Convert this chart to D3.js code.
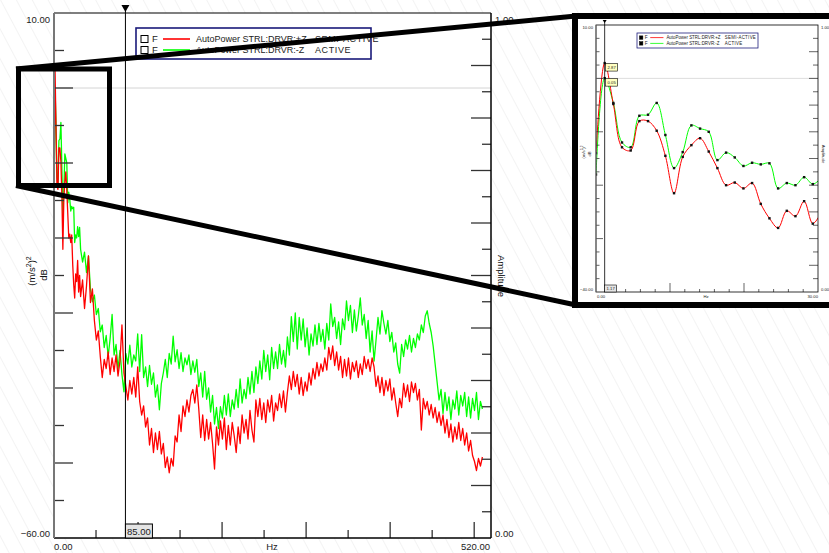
<!DOCTYPE html>
<html>
<head>
<meta charset="utf-8">
<script src="https://cdn.jsdelivr.net/npm/d3@7"></script>
<style>
  body { margin: 0; background: #fff; }
  svg { display: block; }
  text { font-family: "Liberation Sans", Arial, sans-serif; fill: #222; }
</style>
</head>
<body>
<svg id="chart" width="829" height="553"></svg>
<script>
// Spectral line spacing of the autopower measurement (Hz)
const DF = 1.171875;

// Low band 0 .. 30.5 Hz, one value per spectral line (dB)
const lowRed   = [-14.0, 2.87, -4.8, -12.9, -13.5, -8.0, -8.0, -9.8, -14.5, -21.5, -14.7, -12.5, -11.2, -13.7,
                  -16.8, -20.0, -19.5, -20.6, -19.6, -23.5, -26.2, -28.0, -24.8, -25.8, -23.0, -27.2, -25.0];
const lowGreen = [-18.0, 0.05, -4.6, -12.0, -12.9, -7.0, -6.8, -4.6, -10.6, -16.8, -13.8, -8.8, -9.4, -10.0,
                  -15.3, -13.9, -14.8, -16.4, -15.8, -16.1, -15.9, -20.6, -19.6, -20.0, -18.5, -19.8, -18.6];

// Broadband 31.6 .. 510 Hz, every second spectral line (dB)
const highRed = [
  -27.8, -25.6, -29.4, -26.4, -22.4, -28.6, -26.8, -31.0, -33.6, -32.4,
  -35.8, -38.6, -36.2, -37.4, -35.2, -38.2, -36.0, -37.8, -35.6, -38.4,
  -36.4, -31.6, -38.0, -39.8, -41.6, -39.0, -40.8, -38.6, -41.2, -37.2,
  -41.8, -43.6, -42.4, -45.2, -44.0, -47.6, -45.4, -48.6, -46.0, -48.2,
  -45.8, -48.8, -47.4, -50.6, -49.2, -51.3, -49.4, -50.4, -46.4, -47.2,
  -43.6, -45.8, -42.4, -43.8, -41.6, -43.2, -41.0, -40.2, -42.0, -39.6,
  -42.8, -46.6, -43.6, -47.0, -44.2, -46.8, -44.6, -47.4, -50.8, -45.2,
  -47.6, -44.4, -46.8, -44.0, -48.2, -45.0, -47.6, -44.6, -46.4, -48.6,
  -45.2, -47.4, -43.6, -46.0, -44.2, -46.8, -43.0, -45.6, -47.2, -41.6,
  -43.8, -41.4, -44.2, -42.0, -44.6, -41.6, -43.2, -41.0, -44.4, -42.0,
  -43.0, -40.8, -42.6, -40.4, -43.2, -40.6, -38.4, -40.2, -37.8, -39.8,
  -38.2, -40.8, -38.6, -41.0, -39.2, -40.4, -38.0, -39.6, -37.4, -38.8,
  -36.6, -38.4, -36.8, -37.8, -36.0, -37.6, -34.6, -36.2, -34.4, -37.0,
  -35.2, -37.6, -35.8, -38.6, -36.2, -38.4, -36.0, -38.8, -36.6, -37.8,
  -36.4, -38.6, -36.8, -38.2, -35.8, -37.4, -36.2, -37.8, -36.0, -37.2,
  -39.8, -38.4, -40.6, -38.6, -41.0, -39.0, -40.4, -38.8, -41.6, -40.0,
  -42.0, -43.8, -41.4, -42.6, -39.4, -41.2, -39.6, -41.8, -39.2, -40.6,
  -39.4, -41.6, -40.2, -45.6, -41.4, -42.8, -41.8, -43.6, -42.2, -44.0,
  -42.6, -44.6, -43.2, -45.0, -43.6, -46.0, -44.2, -46.6, -44.8, -47.2,
  -45.2, -46.8, -44.6, -47.0, -45.4, -47.6, -46.0, -48.4, -47.0, -49.0,
  -49.8, -51.0, -49.4, -50.4, -49.2
];
const highGreen = [
  -21.5, -23.2, -21.9, -24.6, -22.4, -26.8, -28.5, -27.6, -30.2, -29.4,
  -32.5, -31.6, -34.6, -33.0, -35.8, -33.4, -30.2, -35.6, -34.2, -37.5,
  -35.0, -38.2, -40.5, -35.4, -36.8, -34.3, -37.2, -35.6, -36.4, -32.8,
  -37.8, -32.9, -38.6, -37.2, -39.8, -37.0, -39.5, -38.0, -41.2, -39.6,
  -42.9, -39.4, -38.0, -36.2, -38.6, -35.4, -36.8, -33.1, -36.5, -34.9,
  -37.4, -35.3, -37.8, -36.0, -36.9, -35.6, -38.2, -36.4, -37.9, -36.2,
  -39.8, -38.0, -41.2, -37.8, -41.5, -40.0, -43.2, -41.0, -44.8, -42.6,
  -45.4, -42.5, -44.0, -41.0, -43.6, -40.8, -43.8, -41.6, -42.8, -40.2,
  -42.6, -38.8, -42.0, -40.2, -41.4, -38.6, -40.8, -37.8, -40.6, -37.2,
  -39.4, -36.4, -38.8, -35.0, -37.8, -35.6, -38.9, -34.6, -37.4, -35.2,
  -37.4, -34.2, -36.8, -35.0, -37.2, -33.2, -35.6, -30.5, -33.8, -30.0,
  -34.8, -30.6, -33.6, -30.8, -34.5, -32.0, -35.6, -32.8, -34.4, -31.6,
  -34.2, -31.4, -33.8, -32.2, -34.8, -31.4, -33.6, -28.8, -31.8, -30.6,
  -33.4, -31.2, -34.2, -30.8, -32.2, -28.4, -31.0, -29.0, -32.6, -29.6,
  -32.4, -30.4, -28.0, -31.6, -30.2, -33.4, -31.0, -35.2, -32.4, -36.4,
  -33.6, -30.6, -32.8, -29.7, -31.4, -32.8, -31.0, -33.8, -32.6, -35.2,
  -34.0, -36.8, -38.0, -34.2, -35.8, -33.6, -34.8, -33.0, -35.2, -33.4,
  -34.6, -32.8, -33.6, -31.6, -32.6, -30.4, -29.7, -31.4, -32.6, -34.4,
  -36.8, -39.2, -41.6, -40.2, -43.4, -40.6, -43.0, -41.2, -44.2, -41.6,
  -42.8, -40.4, -43.6, -41.0, -42.4, -40.6, -43.8, -41.2, -44.0, -41.4,
  -43.0, -40.6, -44.2, -41.8, -42.8
];

const seriesNames  = ["AutoPower STRL:DRVR:+Z", "AutoPower STRL:DRVR:-Z"];
const seriesStates = ["SEMI-ACTIVE", "ACTIVE"];
const seriesColors = ["#ff0000", "#00ff00"];

const mainXDomain = [0, 520];
const mainYDomain = [-60, 10];
const insetXDomain = [0, 30];
const insetYDomain = [-40, 10];
const ampDomain = [0, 1];
const mainCursor = 85.00;
const insetCursor = 1.17;

// ---- build frequency/value pairs ----
function buildSeries(low, high) {
  const pts = low.map((v, i) => ({ f: i * DF, v }));
  const f0 = low.length * DF;
  high.forEach((v, j) => pts.push({ f: f0 + j * 2 * DF, v }));
  return pts;
}
const redPts = buildSeries(lowRed, highRed);
const greenPts = buildSeries(lowGreen, highGreen);
const lowRedPts = lowRed.map((v, i) => ({ f: i * DF, v }));
const lowGreenPts = lowGreen.map((v, i) => ({ f: i * DF, v }));

const svg = d3.select("#chart");
const fmt = d3.format(".2f");

// ---- background hatch ----
const defs = svg.append("defs");
const pat = defs.append("pattern").attr("id", "hatch").attr("patternUnits", "userSpaceOnUse")
  .attr("width", 14).attr("height", 14).attr("patternTransform", "rotate(-28)");
pat.append("line").attr("x1", 0).attr("y1", 0).attr("x2", 0).attr("y2", 14)
  .attr("stroke", "#e9e9e9").attr("stroke-width", 1.1);
svg.append("rect").attr("width", 829).attr("height", 553).attr("fill", "#fff");
svg.append("rect").attr("width", 829).attr("height", 553).attr("fill", "url(#hatch)");

// ================= MAIN CHART =================
const M = { l: 54, r: 491, t: 13, b: 538 };
const x = d3.scaleLinear().domain(mainXDomain).range([M.l, M.r]);
const y = d3.scaleLinear().domain(mainYDomain).range([M.b, M.t]);
const yA = d3.scaleLinear().domain(ampDomain).range([M.b, M.t]);

const main = svg.append("g");
main.append("rect").attr("x", M.l).attr("y", M.t).attr("width", M.r - M.l).attr("height", M.b - M.t).attr("fill", "#fff");

// 0 dB reference line
main.append("line").attr("x1", M.l).attr("x2", M.r).attr("y1", y(0)).attr("y2", y(0))
  .attr("stroke", "#d4d4d4").attr("stroke-width", 1);

defs.append("clipPath").attr("id", "mainClip").append("rect")
  .attr("x", M.l).attr("y", M.t).attr("width", M.r - M.l).attr("height", M.b - M.t);

const line = d3.line().x(d => x(d.f)).y(d => y(d.v));
const plotG = main.append("g").attr("clip-path", "url(#mainClip)");
plotG.append("path").datum(greenPts).attr("d", line).attr("fill", "none")
  .attr("stroke", seriesColors[1]).attr("stroke-width", 1.3).attr("stroke-linejoin", "round");
plotG.append("path").datum(redPts).attr("d", line).attr("fill", "none")
  .attr("stroke", seriesColors[0]).attr("stroke-width", 1.3).attr("stroke-linejoin", "round");

// left axis ticks (5 dB minor, 10 dB major)
const leftTicks = d3.range(-55, 10, 5);
main.selectAll(".lt").data(leftTicks).enter().append("line")
  .attr("x1", M.l).attr("x2", d => M.l + (d % 10 === 0 ? 19 : 10))
  .attr("y1", d => y(d)).attr("y2", d => y(d))
  .attr("stroke", "#333").attr("stroke-width", 1.3);
// right axis ticks (0.05 minor, 0.1 major)
const rightTicks = d3.range(1, 20).map(i => i * 0.05);
main.selectAll(".rt").data(rightTicks).enter().append("line")
  .attr("x1", M.r).attr("x2", (d, i) => M.r - ((i + 1) % 2 === 0 ? 20 : 9))
  .attr("y1", d => yA(d)).attr("y2", d => yA(d))
  .attr("stroke", "#333").attr("stroke-width", 1.3);
// bottom ticks (50 Hz minor, 100 Hz major)
const bottomTicks = d3.range(50, 520, 50);
main.selectAll(".bt").data(bottomTicks).enter().append("line")
  .attr("x1", d => x(d)).attr("x2", d => x(d))
  .attr("y1", M.b).attr("y2", d => M.b - (d % 100 === 0 ? 16 : 8))
  .attr("stroke", "#333").attr("stroke-width", 1.3);

// frame
main.append("line").attr("x1", M.l).attr("x2", M.r).attr("y1", M.t).attr("y2", M.t).attr("stroke", "#000").attr("stroke-width", 1.2);
main.append("line").attr("x1", M.l).attr("x2", M.r).attr("y1", M.b).attr("y2", M.b).attr("stroke", "#000").attr("stroke-width", 1.5);
main.append("line").attr("x1", M.r).attr("x2", M.r).attr("y1", M.t).attr("y2", M.b).attr("stroke", "#000").attr("stroke-width", 1.5);
main.append("line").attr("x1", M.l).attr("x2", M.l).attr("y1", M.t).attr("y2", M.b).attr("stroke", "#777").attr("stroke-width", 2);

// axis end labels
const lab = (g, txt, px, py, anchor, size) => g.append("text").attr("x", px).attr("y", py)
  .attr("text-anchor", anchor).attr("font-size", size).text(txt);
lab(main, fmt(mainYDomain[1]), 50, 22.5, "end", 9.5);
lab(main, fmt(mainYDomain[0]), 50, 536.5, "end", 9.5);
lab(main, fmt(ampDomain[1]), 495, 22.5, "start", 9.5);
lab(main, fmt(ampDomain[0]), 495, 536.5, "start", 9.5);
lab(main, fmt(mainXDomain[0]), 54, 549.5, "start", 9.5);
lab(main, fmt(mainXDomain[1]), 490, 549.5, "end", 9.5);
lab(main, "Hz", 272, 549.5, "middle", 9.5);

// axis titles
const yt = main.append("text").attr("transform", "translate(35,271) rotate(-90)")
  .attr("text-anchor", "middle").attr("font-size", 9.5).style("fill", "#111");
yt.append("tspan").text("(m/s");
yt.append("tspan").attr("dy", -4).attr("font-size", 7).text("2");
yt.append("tspan").attr("dy", 4).text(")");
yt.append("tspan").attr("dy", -4).attr("font-size", 7).text("2");
main.append("text").attr("transform", "translate(47,275) rotate(-90)")
  .attr("text-anchor", "middle").attr("font-size", 9.5).style("fill", "#111").text("dB");
main.append("text").attr("transform", "translate(498,276) rotate(90)")
  .attr("text-anchor", "middle").attr("font-size", 9.5).style("fill", "#111").text("Amplitude");

// cursor
const cx = x(mainCursor);
main.append("line").attr("x1", cx).attr("x2", cx).attr("y1", 5).attr("y2", M.b).attr("stroke", "#000").attr("stroke-width", 1);
main.append("path").attr("d", `M${cx - 4},5 L${cx + 4},5 L${cx},12 Z`).attr("fill", "#000");
main.append("rect").attr("x", cx).attr("y", 524).attr("width", 27).attr("height", 14)
  .attr("fill", "#e4e4e4").attr("stroke", "#000").attr("stroke-width", 1);
lab(main, fmt(mainCursor), cx + 13.5, 534.5, "middle", 9.5);

// legend
function drawLegend(g, lx, ly, w, h, rowY, s, filledBox) {
  g.append("rect").attr("x", lx).attr("y", ly).attr("width", w).attr("height", h)
    .attr("fill", "#fff").attr("stroke", "#1a1a7a").attr("stroke-width", 1.6 * s);
  seriesNames.forEach((name, i) => {
    const ry = rowY[i];
    g.append("rect").attr("x", lx + 5 * s).attr("y", ry - 3.5 * s).attr("width", 7 * s).attr("height", 7 * s)
      .attr("fill", filledBox ? "#000" : "#fff").attr("stroke", "#000").attr("stroke-width", 1 * s);
    g.append("text").attr("x", lx + 16 * s).attr("y", ry + 3.4 * s).attr("font-size", 9.5 * s).text("F");
    g.append("line").attr("x1", lx + 27 * s).attr("x2", lx + 54 * s).attr("y1", ry).attr("y2", ry)
      .attr("stroke", seriesColors[i]).attr("stroke-width", 1.6 * s);
    g.append("text").attr("x", lx + 60 * s).attr("y", ry + 3.4 * s).attr("font-size", 9 * s).text(name);
    g.append("text").attr("x", lx + 179 * s).attr("y", ry + 3.4 * s).attr("font-size", 9 * s)
      .attr("letter-spacing", 0.6 * s).text(seriesStates[i]);
  });
}
drawLegend(main, 136, 28, 235, 31, [39, 50], 1, false);

// ================= ZOOM CALLOUT =================
const callout = svg.append("g");
callout.append("rect").attr("x", 18.5).attr("y", 69).attr("width", 91).attr("height", 116.5)
  .attr("fill", "none").attr("stroke", "#000").attr("stroke-width", 5);
callout.append("line").attr("x1", 16).attr("y1", 69).attr("x2", 576).attr("y2", 16)
  .attr("stroke", "#000").attr("stroke-width", 5);
callout.append("line").attr("x1", 16).attr("y1", 185.5).attr("x2", 576).attr("y2", 305)
  .attr("stroke", "#000").attr("stroke-width", 5);

// ================= INSET =================
const I = { l: 596, r: 818, t: 25, b: 292 };
const ix = d3.scaleLinear().domain(insetXDomain).range([I.l, I.r]);
const iy = d3.scaleLinear().domain(insetYDomain).range([I.b, I.t]);
const iyA = d3.scaleLinear().domain(ampDomain).range([I.b, I.t]);

const inset = svg.append("g");
inset.append("rect").attr("x", 575).attr("y", 16).attr("width", 270).attr("height", 289)
  .attr("fill", "#fff").attr("stroke", "#000").attr("stroke-width", 6);

inset.append("line").attr("x1", I.l).attr("x2", I.r).attr("y1", iy(0)).attr("y2", iy(0))
  .attr("stroke", "#d4d4d4").attr("stroke-width", 0.8);

defs.append("clipPath").attr("id", "insetClip").append("rect")
  .attr("x", I.l).attr("y", I.t).attr("width", I.r - I.l).attr("height", I.b - I.t);
const iline = d3.line().x(d => ix(d.f)).y(d => iy(d.v)).curve(d3.curveCatmullRom.alpha(0.5));
const ig = inset.append("g").attr("clip-path", "url(#insetClip)");
[[lowGreenPts, seriesColors[1]], [lowRedPts, seriesColors[0]]].forEach(([pts, col]) => {
  ig.append("path").datum(pts).attr("d", iline).attr("fill", "none")
    .attr("stroke", col).attr("stroke-width", 1);
});
[lowGreenPts, lowRedPts].forEach(pts => {
  ig.selectAll(null).data(pts).enter().append("rect")
    .attr("x", d => ix(d.f) - 1.2).attr("y", d => iy(d.v) - 1.2)
    .attr("width", 2.4).attr("height", 2.4).attr("fill", "#111");
});

// inset ticks
const iLeft = d3.range(-37.5, 10, 2.5);
inset.selectAll(".ilt").data(iLeft).enter().append("line")
  .attr("x1", I.l).attr("x2", d => I.l + (d % 10 === 0 ? 7 : 3.5))
  .attr("y1", d => iy(d)).attr("y2", d => iy(d)).attr("stroke", "#222").attr("stroke-width", 0.7);
inset.selectAll(".irt").data(rightTicks).enter().append("line")
  .attr("x1", I.r).attr("x2", (d, i) => I.r - ((i + 1) % 2 === 0 ? 9 : 5))
  .attr("y1", d => iyA(d)).attr("y2", d => iyA(d)).attr("stroke", "#222").attr("stroke-width", 0.7);
const iBottom = d3.range(2, 30, 2);
inset.selectAll(".ibt").data(iBottom).enter().append("line")
  .attr("x1", d => ix(d)).attr("x2", d => ix(d))
  .attr("y1", I.b).attr("y2", d => I.b - (d % 10 === 0 ? 9 : 3)).attr("stroke", "#222").attr("stroke-width", 0.7);

inset.append("rect").attr("x", I.l).attr("y", I.t).attr("width", I.r - I.l).attr("height", I.b - I.t)
  .attr("fill", "none").attr("stroke", "#000").attr("stroke-width", 0.8);
inset.append("line").attr("x1", I.l).attr("x2", I.l).attr("y1", I.t).attr("y2", I.b).attr("stroke", "#777").attr("stroke-width", 1);

lab(inset, fmt(insetYDomain[1]), 593, 28.5, "end", 4.2);
lab(inset, fmt(insetYDomain[0]), 593, 290.5, "end", 4.2);
lab(inset, fmt(ampDomain[1]), 821, 28.5, "start", 4.2);
lab(inset, fmt(ampDomain[0]), 821, 290.5, "start", 4.2);
lab(inset, fmt(insetXDomain[0]), 597, 298, "start", 4.2);
lab(inset, fmt(insetXDomain[1]), 818, 298, "end", 4.2);
lab(inset, "Hz", 706, 298, "middle", 4.2);
const iyt = inset.append("text").attr("transform", "translate(585,152) rotate(-90)")
  .attr("text-anchor", "middle").attr("font-size", 4.2);
iyt.append("tspan").text("(m/s");
iyt.append("tspan").attr("dy", -1.8).attr("font-size", 3).text("2");
iyt.append("tspan").attr("dy", 1.8).text(")");
iyt.append("tspan").attr("dy", -1.8).attr("font-size", 3).text("2");
inset.append("text").attr("transform", "translate(591,154) rotate(-90)")
  .attr("text-anchor", "middle").attr("font-size", 4.2).text("dB");
inset.append("text").attr("transform", "translate(822,154) rotate(90)")
  .attr("text-anchor", "middle").attr("font-size", 4.2).text("Amplitude");

// inset cursor with value flags
const icx = ix(insetCursor);
inset.append("line").attr("x1", icx).attr("x2", icx).attr("y1", 20).attr("y2", I.b).attr("stroke", "#000").attr("stroke-width", 0.8);
inset.append("path").attr("d", `M${icx - 2},20 L${icx + 2},20 L${icx},23 Z`).attr("fill", "#000");
inset.append("rect").attr("x", icx).attr("y", 285).attr("width", 12).attr("height", 7)
  .attr("fill", "#e4e4e4").attr("stroke", "#000").attr("stroke-width", 0.6);
lab(inset, fmt(insetCursor), icx + 6, 290, "middle", 4.2);
[lowRed[1], lowGreen[1]].forEach(v => {
  const py = iy(v);
  inset.append("rect").attr("x", icx + 1).attr("y", py + 0.5).attr("width", 12).attr("height", 7.5)
    .attr("fill", "#ffffc0").attr("stroke", "#000").attr("stroke-width", 0.6);
  lab(inset, fmt(v), icx + 7, py + 5.6, "middle", 4.2);
});

drawLegend(inset, 637, 33, 121, 15, [37.6, 43.4], 0.49, true);
</script>
</body>
</html>
